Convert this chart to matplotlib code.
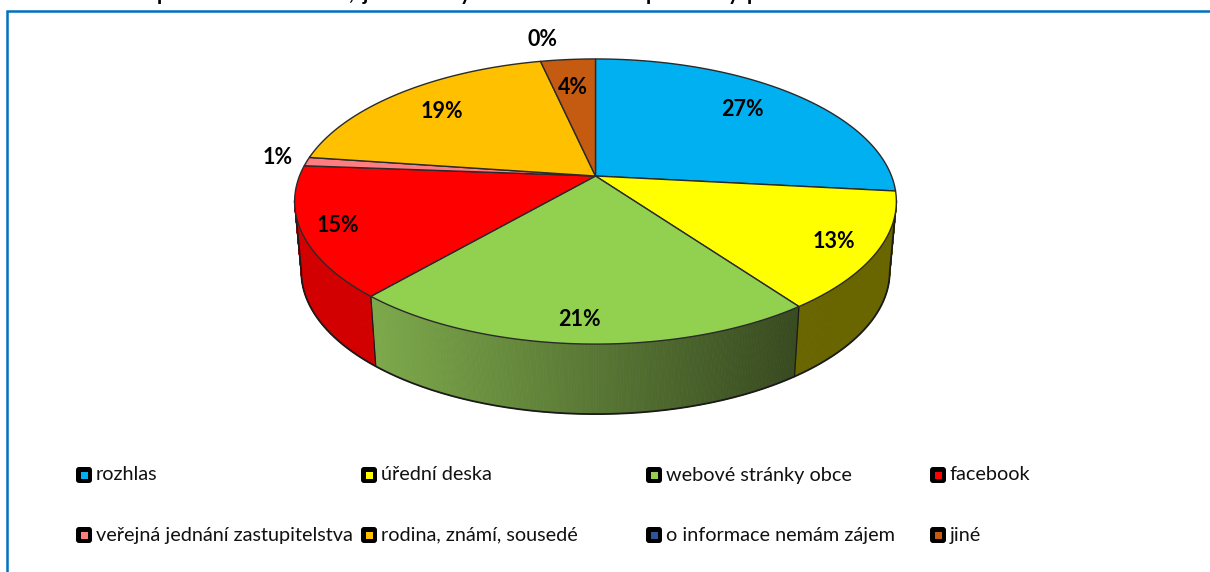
# plot.py
import numpy as np
import matplotlib
matplotlib.use('Agg')
import matplotlib.pyplot as plt
from matplotlib.patches import FancyBboxPatch, Rectangle

plt.rcParams['font.family'] = ['Lato', 'DejaVu Sans']

# Data
categories = ['rozhlas', 'úřední deska', 'webové stránky obce', 'facebook',
              'veřejná jednání zastupitelstva', 'rodina, známí, sousedé',
              'o informace nemám zájem', 'jiné']
values = [26.7, 13.3, 21.4, 14.8, 1.0, 19.3, 0.0, 3.5]
labels = ['27%', '13%', '21%', '15%', '1%', '19%', '0%', '4%']
colors = ['#00B0F0', '#FFFF00', '#92D050', '#FF0000',
          '#FF7C80', '#FFC000', '#2F5597', '#C55A11']
wall_left = ['#008CC0', '#696600', '#7CA84A', '#D20000',
             '#B05055', '#B08400', '#203A66', '#8A3F0C']
wall_right = ['#008CC0', '#696600', '#37491F', '#D20000',
              '#B05055', '#B08400', '#203A66', '#8A3F0C']

# the title is cut off by the picture, only these tails of letters are left
title_marks = ['p', ',', 'j', 'y', 'p', 'y', 'p']
title_x = [163, 351, 365, 465, 652, 733, 753]

# label positions in pixels (label layout, not data)
label_x = [742, 834, 579, 338, 278, 442, 543, 573]
label_y = [110, 241, 319, 225, 157, 111, 40, 87]
legend_x = [76, 361, 646, 930, 76, 361, 646, 930]
legend_y = [475, 475, 475, 475, 535, 535, 535, 535]

W, H = 1210, 572
cx, cy = 595.5, 176
R, S, K = 296, 138, 0.179   # perspective of the disc
DEPTH, SHRINK = 70, 0.978

fig = plt.figure(figsize=(W / 100, H / 100), dpi=100)
ax = fig.add_axes([0, 0, 1, 1])
ax.set_xlim(0, W)
ax.set_ylim(H, 0)
ax.axis('off')


def top_edge(theta):
    u, v = np.sin(theta), np.cos(theta)
    w = 1 + K * v
    return cx + R * u / w, cy - S * v / w


def bottom_edge(theta):
    x, y = top_edge(theta)
    return cx + (x - cx) * SHRINK, y + DEPTH


edges = np.cumsum([0] + values) / sum(values) * 2 * np.pi
# where the outline of the disc runs vertical, the wall starts there
th_r = np.arccos(-K)
th_l = 2 * np.pi - th_r

# side walls first, only the part facing us
for i in range(len(values)):
    a, b = max(edges[i], th_r), min(edges[i + 1], th_l)
    if b <= a:
        continue
    th = np.linspace(a, b, max(int((b - a) * 200), 4))
    xt, yt = top_edge(th)
    xb, yb = bottom_edge(th)
    c0 = np.array(matplotlib.colors.to_rgb(wall_left[i]))
    c1 = np.array(matplotlib.colors.to_rgb(wall_right[i]))
    for j in range(len(th) - 1):
        f = np.clip((xt[j] - 375) / (800 - 375), 0, 1)
        col = c0 + (c1 - c0) * f
        ax.fill([xt[j], xt[j + 1], xb[j + 1], xb[j]],
                [yt[j], yt[j + 1], yb[j + 1], yb[j]],
                color=col, lw=0.6, zorder=2)

# outline of the lower rim, its two sides and the wall seams
th = np.linspace(th_r, th_l, 400)
xb, yb = bottom_edge(th)
xt, yt = top_edge(th)
ax.plot(np.r_[xt[0], xb, xt[-1]], np.r_[yt[0], yb, yt[-1]],
        color='#1a1a1a', lw=1.3, zorder=3)
for i in range(len(values)):
    if th_r < edges[i] < th_l:
        x0, y0 = top_edge(edges[i])
        x1, y1 = bottom_edge(edges[i])
        ax.plot([x0, x1], [y0, y1], color='#1a1a1a', lw=0.9, zorder=3)

# top faces
for i in range(len(values)):
    if values[i] == 0:
        continue
    th = np.linspace(edges[i], edges[i + 1], max(int(values[i] * 12), 4))
    xt, yt = top_edge(th)
    ax.fill(np.r_[cx, xt], np.r_[cy, yt], facecolor=colors[i],
            edgecolor='#2a2a2a', lw=1.0, zorder=4)

for i in range(len(labels)):
    ax.text(label_x[i], label_y[i], labels[i], fontsize=15.5, fontweight='bold',
            color='black', ha='center', va='center', zorder=6)

# legend
for i in range(len(categories)):
    x, y = legend_x[i], legend_y[i]
    ax.add_patch(FancyBboxPatch((x + 2, y - 6), 12, 12,
                                boxstyle='round,pad=2,rounding_size=3',
                                facecolor='black', edgecolor='none', zorder=5))
    ax.add_patch(Rectangle((x + 4.5, y - 3.5), 7, 7, facecolor=colors[i],
                           edgecolor='none', zorder=6))
    ax.text(x + 20, y, categories[i], fontsize=14.3, color='#111111',
            ha='left', va='center', zorder=6)

for m, x in zip(title_marks, title_x):
    ax.text(x, 0, m, fontsize=15, fontweight='bold', color='black',
            ha='center', va='baseline', zorder=6)

# chart frame, open on the right and at the bottom
ax.plot([7, 7, W], [H, 11, 11], color='#0070C0', lw=1.8, solid_joinstyle='miter',
        zorder=7)

fig.savefig('out.png', dpi=100)
